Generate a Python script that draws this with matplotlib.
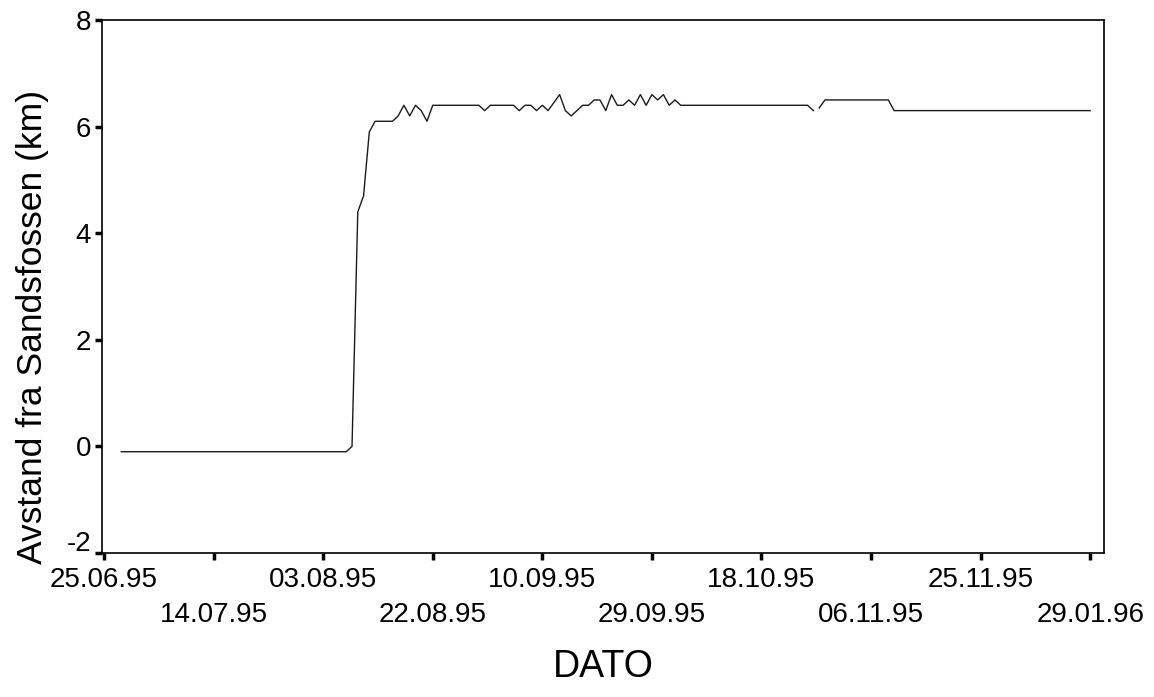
import numpy as np
import matplotlib
matplotlib.use("Agg")
import matplotlib.pyplot as plt
from matplotlib.transforms import ScaledTranslation

plt.rcParams['font.family'] = ['Liberation Sans', 'DejaVu Sans']

# case number (one per registration) and distance from Sandsfossen, km
case = [3, 42, 43, 44, 45, 46, 47, 50, 51, 52, 53, 54, 55, 56, 57, 65, 66, 67,
        71, 72, 73, 74, 75, 76, 77, 78, 79, 80, 81, 82, 83, 84, 85, 86, 87, 88,
        89, 90, 91, 92, 93, 94, 95, 96, 97, 98, 99, 100, 122, 123, 123.5,
        124, 125, 136, 137, 171]
avstand = [-0.1, -0.1, 0.0, 4.4, 4.7, 5.9, 6.1, 6.1, 6.2, 6.4, 6.2, 6.4, 6.3,
           6.1, 6.4, 6.4, 6.3, 6.4, 6.4, 6.3, 6.4, 6.4, 6.3, 6.4, 6.3, 6.45,
           6.6, 6.3, 6.2, 6.3, 6.4, 6.4, 6.5, 6.5, 6.3, 6.6, 6.4, 6.4, 6.5,
           6.4, 6.6, 6.4, 6.6, 6.5, 6.6, 6.4, 6.5, 6.4, 6.4, 6.3, np.nan,
           6.35, 6.5, 6.5, 6.3, 6.3]

tick_pos = [0, 19, 38, 57, 76, 95, 114, 133, 152, 171]
tick_lab = ['25.06.95', '14.07.95', '03.08.95', '22.08.95', '10.09.95',
            '29.09.95', '18.10.95', '06.11.95', '25.11.95', '29.01.96']
# every second date goes on a lower row
tick_lab = [t if i % 2 == 0 else '\n' + t for i, t in enumerate(tick_lab)]

fig = plt.figure(figsize=(11.54, 6.97), dpi=100)
ax = fig.add_axes([0.0884, 0.2066, 0.8683, 0.7647])

ax.plot(case, avstand, color='#1a1a1a', lw=1.0)

ax.set_xlim(-0.35, 173.4)
ax.set_ylim(-2, 8)
ax.set_yticks([-2, 0, 2, 4, 6, 8])
ax.set_yticklabels(['-2', '0', '2', '4', '6', '8'])
ax.set_xticks(tick_pos)
ax.set_xticklabels(tick_lab, linespacing=1.45)

ax.tick_params(axis='both', direction='out', length=5, width=2.5,
               labelsize=20, pad=3)
ax.tick_params(axis='x', pad=5)
for s in ax.spines.values():
    s.set_linewidth(1.2)

# lift the lowest y label clear of the first date
lowest = ax.get_yticklabels()[0]
lowest.set_transform(lowest.get_transform() +
                     ScaledTranslation(0, 0.12, fig.dpi_scale_trans))

ax.set_ylabel('Avstand fra Sandsfossen (km)', fontsize=25.5)
ax.yaxis.set_label_coords(-0.053, 0.425)
ax.set_xlabel('DATO', fontsize=27, labelpad=15)

fig.savefig('out.png', dpi=100)
